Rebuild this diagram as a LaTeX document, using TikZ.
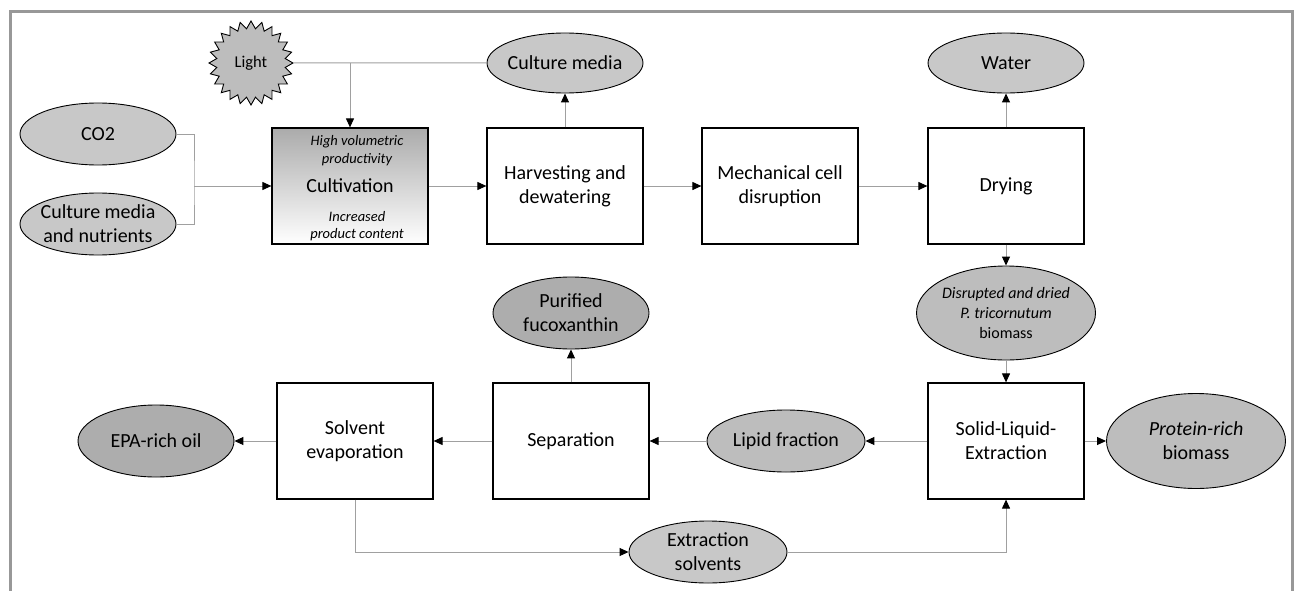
\documentclass[tikz,border=0pt]{standalone}
\usepackage{fontspec}
\setmainfont{Carlito}
\usetikzlibrary{positioning,calc,shapes.geometric,arrows.meta}

\definecolor{lightfill}{HTML}{C8C8C8}
\definecolor{midfill}{HTML}{BDBDBD}
\definecolor{darkfill}{HTML}{ADADAD}
\definecolor{linegray}{HTML}{A0A0A0}

\tikzset{
  process/.style={draw=black, line width=1.2pt, fill=white, minimum width=156pt,
    minimum height=116pt, align=center, inner sep=0pt,
    font=\fontsize{20}{24}\selectfont},
  stream/.style={ellipse, draw=black, line width=0.9pt, fill=lightfill,
    minimum width=156pt, minimum height=62pt, inner xsep=-45pt, inner ysep=-25pt,
    align=center, font=\fontsize{20}{24}\selectfont},
  product/.style={stream, fill=darkfill, minimum height=72pt},
  conn/.style={draw=linegray, line width=1pt},
  flow/.style={conn, -{Triangle[length=9pt,width=8pt,color=black]}},
  note/.style={align=center, inner sep=0pt, font=\fontsize{14.5}{17.5}\selectfont\itshape},
}

\begin{document}
\begin{tikzpicture}[x=1pt,y=-1pt]
    \useasboundingbox (0,0) rectangle (1297,591);
    % frame round the figure
    \draw[linegray!95!black, line width=3pt] (10,591) -- (10,12) -- (1292,12) -- (1292,591);

    % upstream processing
    \node[process, top color=black!33, bottom color=white] (cult) at (350,186) {Cultivation};
    \node[note] (cultup) at (357,150.5) {High volumetric\\productivity};
    \node[note] (cultdown) at (357,226) {Increased\\product content};
    \node[process] (harv) at (565,186) {Harvesting and\\dewatering};
    \node[process] (mech) at (780,186) {Mechanical cell\\disruption};
    \node[process] (dry) at (1006,186) {Drying};

    % inputs and side streams
    \node[stream] (co2) at (98,134) {CO2};
    \node[stream] (nutr) at (98,224) {Culture media\\and nutrients};
    \node[star, star points=24, star point ratio=1.22, minimum size=84pt,
      inner sep=0pt, draw=black, line width=0.9pt, fill=midfill,
      font=\fontsize{16.5}{19}\selectfont] (light) at (251,63) {Light};
    \node[stream, minimum height=60pt] (cmedia) at (565,63) {Culture media};
    \node[stream, minimum height=60pt] (water) at (1006,63) {Water};
    \node[stream, fill=midfill, minimum width=179pt, minimum height=94pt,
      font=\fontsize{16}{20}\selectfont] (disr) at (1006,313)
      {\textit{Disrupted and dried}\\\textit{P. tricornutum}\\biomass};

    % downstream processing
    \node[process] (sle) at (1006,441) {Solid-Liquid-\\Extraction};
    \node[process] (sep) at (571,441) {Separation};
    \node[process] (solv) at (355,441) {Solvent\\evaporation};
    \node[stream, fill=midfill, minimum width=179pt, minimum height=95pt] (prot) at (1196,441) {\textit{Protein-rich}\\biomass};
    \node[stream, fill=midfill, minimum width=158pt] (lipid) at (786,441) {Lipid fraction};
    \node[product] (puri) at (571,313) {Purified\\fucoxanthin};
    \node[product] (epa) at (156,441) {EPA-rich oil};
    \node[stream, minimum width=158pt] (extr) at (708,552) {Extraction\\solvents};

    % connectors
    \coordinate (feed) at (194,186);
    \coordinate (recycle) at (light.east -| cult.north);
    \draw[conn] (co2.east) -| (feed) |- (nutr.east);
    \draw[flow] (feed) -- (cult.west);
    \draw[conn] (light.east) -- (cmedia.west);
    \draw[flow] (recycle) -- (cult.north);
    \draw[flow] (cult.east) -- (harv.west);
    \draw[flow] (harv.east) -- (mech.west);
    \draw[flow] (mech.east) -- (dry.west);
    \draw[flow] (harv.north) -- (cmedia.south);
    \draw[flow] (dry.north) -- (water.south);
    \draw[flow] (dry.south) -- (disr.north);
    \draw[flow] (disr.south) -- (sle.north);
    \draw[flow] (sle.west) -- (lipid.east);
    \draw[flow] (sle.east) -- (prot.west);
    \draw[flow] (lipid.west) -- (sep.east);
    \draw[flow] (sep.north) -- (puri.south);
    \draw[flow] (sep.west) -- (solv.east);
    \draw[flow] (solv.west) -- (epa.east);
    \draw[flow] (solv.south) |- (extr.west);
    \draw[flow] (extr.east) -| (sle.south);
\end{tikzpicture}
\end{document}
